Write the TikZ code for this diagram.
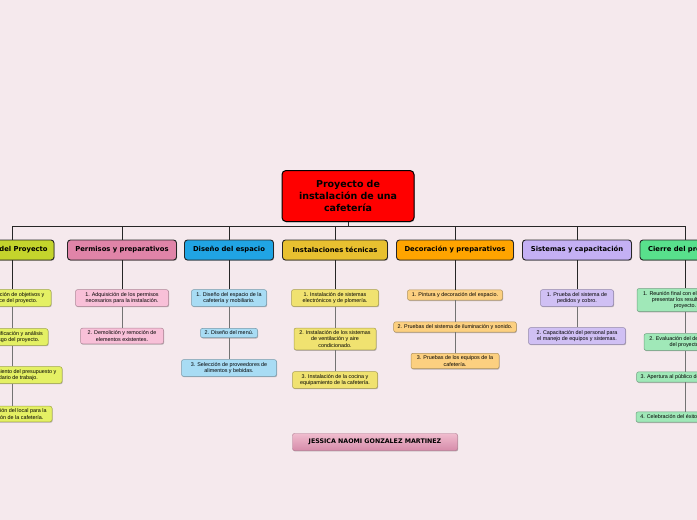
\documentclass[tikz,border=0pt]{standalone}
\usepackage{fontspec}
\setmainfont{Liberation Sans}
\newfontfamily\verd{DejaVu Sans}
\usetikzlibrary{shadows}
\definecolor{bg}{RGB}{245,233,237}
\definecolor{cA}{RGB}{196,212,44}
\definecolor{lA}{RGB}{228,240,100}
\definecolor{cB}{RGB}{224,132,168}
\definecolor{lB}{RGB}{248,192,216}
\definecolor{cC}{RGB}{32,164,228}
\definecolor{lC}{RGB}{168,220,244}
\definecolor{cD}{RGB}{232,192,48}
\definecolor{lD}{RGB}{240,226,112}
\definecolor{cE}{RGB}{255,164,0}
\definecolor{lE}{RGB}{252,208,128}
\definecolor{cF}{RGB}{196,176,244}
\definecolor{lF}{RGB}{208,192,244}
\definecolor{cG}{RGB}{88,224,140}
\definecolor{lG}{RGB}{160,232,184}
\definecolor{nameTop}{RGB}{240,188,206}
\definecolor{nameBot}{RGB}{214,140,170}
\tikzset{
  shad/.style={drop shadow={shadow xshift=0.6pt,shadow yshift=-0.9pt,opacity=0.25,fill=black}},
  cat/.style={draw=black!85,line width=0.9pt,rounded corners=3pt,fill=#1,minimum height=20pt,
    inner xsep=4pt,inner ysep=0pt,font=\verd\bfseries\fontsize{6.8}{8}\selectfont,shad},
  leaf/.style={draw=#1!70!black,line width=0.5pt,rounded corners=2pt,fill=#1,inner xsep=4pt,
    inner ysep=2.6pt,align=center,font=\fontsize{5.4}{6.3}\selectfont,shad},
  tree/.style={draw=black!85,line width=0.9pt},
  chain/.style={draw=black!55,line width=0.6pt},
}
\begin{document}
\begin{tikzpicture}[x=1pt,y=-1pt]
\fill[bg] (0,0) rectangle (697,520);
\useasboundingbox (0,0) rectangle (697,520);
\clip (0,0) rectangle (697,520);
% root
\node[draw=black,line width=1pt,rounded corners=4pt,fill=red,minimum width=132pt,minimum height=51pt,
  text width=124pt,align=center,inner sep=0pt,font=\verd\bfseries\fontsize{9.5}{12}\selectfont,shad]
  (root) at (348,196) {Proyecto de\\instalación de una\\cafetería};
\coordinate (bus) at (348,226);
% categories
\node[cat=cA,minimum width=84pt] (c1) at (12,250) {Inicio del Proyecto};
\node[cat=cB,minimum width=109pt] (c2) at (122,250) {Permisos y preparativos};
\node[cat=cC,minimum width=89pt] (c3) at (229,250) {Diseño del espacio};
\node[cat=cD,minimum width=105pt] (c4) at (335,250) {Instalaciones técnicas};
\node[cat=cE,minimum width=117pt] (c5) at (455,250) {Decoración y preparativos};
\node[cat=cF,minimum width=109pt] (c6) at (577,250) {Sistemas y capacitación};
\node[cat=cG,minimum width=90pt] (c7) at (685,250) {Cierre del proyecto};
% leaves col 1
\node[leaf=lA,minimum width=78pt] (a1) at (12,298) {1. Definición de objetivos y\\alcance del proyecto.};
\node[leaf=lA,minimum width=72pt] (a2) at (12,337) {2. Identificación y análisis\\de riesgo del proyecto.};
\node[leaf=lA,minimum width=100pt] (a3) at (12,375) {3. Establecimiento del presupuesto y\\calendario de trabajo.};
\node[leaf=lA,minimum width=80pt] (a4) at (12,414) {4. Selección del local para la\\instalación de la cafetería.};
% col 2
\node[leaf=lB,minimum width=93pt] (b1) at (122,298) {1. Adquisición de los permisos\\necesarios para la instalación.};
\node[leaf=lB,minimum width=83pt] (b2) at (122,336) {2. Demolición y remoción de\\elementos existentes.};
% col 3
\node[leaf=lC,minimum width=75pt] (d1) at (229,298) {1. Diseño del espacio de la\\cafetería y mobiliario.};
\node[leaf=lC,minimum width=57pt] (d2) at (229,333) {2. Diseño del menú.};
\node[leaf=lC,minimum width=95pt] (d3) at (229,368) {3. Selección de proveedores de\\alimentos y bebidas.};
% col 4
\node[leaf=lD,minimum width=87pt] (e1) at (335,298) {1. Instalación de sistemas\\electrónicos y de plomería.};
\node[leaf=lD,minimum width=82pt] (e2) at (335,339) {2. Instalación de los sistemas\\de ventilación y aire\\condicionado.};
\node[leaf=lD,minimum width=85pt] (e3) at (335,380) {3. Instalación de la cocina y\\equipamiento de la cafetería.};
% col 5
\node[leaf=lE,minimum width=95pt] (f1) at (455,295) {1. Pintura y decoración del espacio.};
\node[leaf=lE,minimum width=122pt] (f2) at (455,327) {2. Pruebas del sistema de iluminación y sonido.};
\node[leaf=lE,minimum width=88pt] (f3) at (455,361) {3. Pruebas de los equipos de la\\cafetería.};
% col 6
\node[leaf=lF,minimum width=73pt] (g1) at (577,298) {1. Prueba del sistema de\\pedidos y cobro.};
\node[leaf=lF,minimum width=97pt] (g2) at (577,336) {2. Capacitación del personal para\\el manejo de equipos y sistemas.};
% col 7
\node[leaf=lG,minimum width=96pt] (h1) at (685,300) {1. Reunión final con el equipo para\\presentar los resultados del\\proyecto.};
\node[leaf=lG,minimum width=82pt] (h2) at (685,342) {2. Evaluación del desempeño\\del proyecto.};
\node[leaf=lG,minimum width=96pt] (h3) at (685,377) {3. Apertura al público de la cafetería.};
\node[leaf=lG,minimum width=98pt] (h4) at (685,417) {4. Celebración del éxito del proyecto.};
% name
\node[top color=nameTop,bottom color=nameBot,draw=nameBot!80!black,line width=0.4pt,rounded corners=2pt,
  minimum width=165pt,minimum height=17pt,inner sep=0pt,font=\verd\bfseries\fontsize{6.3}{7}\selectfont,shad]
  (name) at (375,442) {JESSICA NAOMI GONZALEZ MARTINEZ};
% tree connectors
\draw[tree] (root.south) -- (bus);
\draw[tree] (c1.north |- bus) -- (c7.north |- bus);
\foreach \c in {c1,c2,c3,c4,c5,c6,c7} \draw[tree] (\c.north) -- (\c.north |- bus);
% chains
\draw[tree] (c1) -- (a1); \draw[chain] (a1) -- (a2); \draw[chain] (a2) -- (a3); \draw[chain] (a3) -- (a4);
\draw[tree] (c2) -- (b1); \draw[chain] (b1) -- (b2);
\draw[tree] (c3) -- (d1); \draw[chain] (d1) -- (d2); \draw[chain] (d2) -- (d3);
\draw[tree] (c4) -- (e1); \draw[chain] (e1) -- (e2); \draw[chain] (e2) -- (e3);
\draw[tree] (c5) -- (f1); \draw[chain] (f1) -- (f2); \draw[chain] (f2) -- (f3);
\draw[tree] (c6) -- (g1); \draw[chain] (g1) -- (g2);
\draw[tree] (c7) -- (h1); \draw[chain] (h1) -- (h2); \draw[chain] (h2) -- (h3); \draw[chain] (h3) -- (h4);
\end{tikzpicture}
\end{document}
